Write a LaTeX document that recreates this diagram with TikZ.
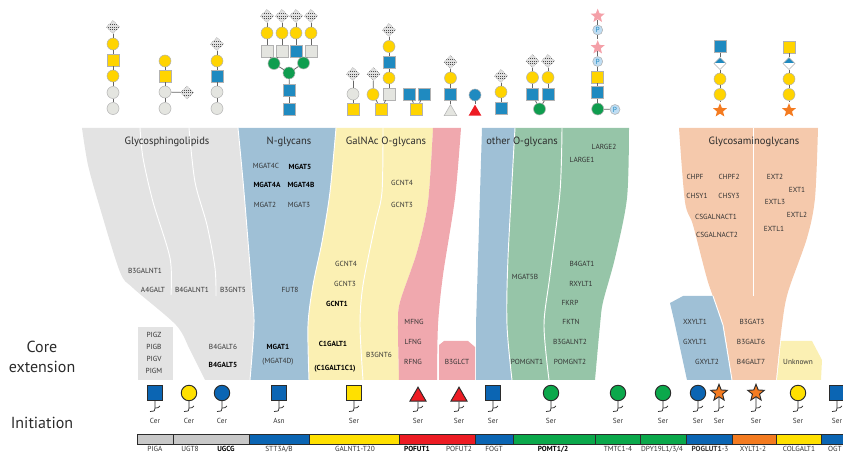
\documentclass[tikz,border=0pt]{standalone}
\usepackage{fontspec}
\setmainfont{PT Sans}
\usetikzlibrary{shapes.geometric}
\definecolor{rGrey}{HTML}{E3E3E3}
\definecolor{rBlue}{HTML}{9FC0D6}
\definecolor{rYellow}{HTML}{FBF0B3}
\definecolor{rPink}{HTML}{F0A8AE}
\definecolor{rGreen}{HTML}{96C5A8}
\definecolor{rOrange}{HTML}{F5C9AC}
\definecolor{sGrey}{HTML}{E4E5E0}
\definecolor{sYellow}{HTML}{FFD400}
\definecolor{sBlue}{HTML}{1F8AC0}
\definecolor{sGreen}{HTML}{0F9D4F}
\definecolor{sRed}{HTML}{ED1C24}
\definecolor{sOrange}{HTML}{F47B20}
\definecolor{sPink}{HTML}{F4A0A8}
\definecolor{sP}{HTML}{BFDDF3}
\definecolor{iBlue}{HTML}{0B65B3}
\definecolor{iYellow}{HTML}{FFE000}
\definecolor{iGreen}{HTML}{0BA84B}
\definecolor{barGrey}{HTML}{C8C8C8}
\definecolor{ink}{HTML}{2B2B2B}
\definecolor{geneInk}{HTML}{333333}
\tikzset{
  sym/.style={inner sep=0pt,draw=black!30,line width=.4pt},
  gc/.style={sym,circle,minimum size=9pt,fill=sGrey},
  yc/.style={sym,circle,minimum size=9pt,fill=sYellow},
  bc/.style={sym,circle,minimum size=9pt,fill=sBlue},
  grc/.style={sym,circle,minimum size=9pt,fill=sGreen},
  gs/.style={sym,rectangle,minimum size=9pt,fill=sGrey},
  ys/.style={sym,rectangle,minimum size=9pt,fill=sYellow},
  bs/.style={sym,rectangle,minimum size=9pt,fill=sBlue},
  gt/.style={sym,regular polygon,regular polygon sides=3,minimum size=11pt,fill=sGrey},
  rt/.style={sym,regular polygon,regular polygon sides=3,minimum size=11pt,fill=sRed,draw=none},
  os/.style={sym,star,star points=5,star point ratio=2.3,minimum size=11pt,fill=sOrange,draw=none},
  ps/.style={sym,star,star points=5,star point ratio=2.3,minimum size=11pt,fill=sPink,draw=none},
  pc/.style={sym,circle,minimum size=7.5pt,fill=sP,text=sBlue,font=\fontsize{5.5}{5.5}\selectfont},
  dia/.style={sym,diamond,minimum size=10pt,fill=black!12,draw=black!45,densely dotted,
    path picture={\draw[black!70,densely dotted,line width=.5pt]
      ([yshift=1.8pt]path picture bounding box.west)--([yshift=1.8pt]path picture bounding box.east)
      (path picture bounding box.west)--(path picture bounding box.east)
      ([yshift=-1.8pt]path picture bounding box.west)--([yshift=-1.8pt]path picture bounding box.east);}},
  hdia/.style={sym,diamond,minimum size=9pt,fill=white,
    path picture={\fill[sBlue] (path picture bounding box.north west) rectangle (path picture bounding box.east);}},
  link/.style={draw=black!60,line width=.6pt},
  ic/.style={inner sep=0pt,draw=ink,line width=.7pt},
  icc/.style={ic,circle,minimum size=11.6pt},
  ics/.style={ic,rectangle,minimum size=11.6pt},
  ict/.style={ic,regular polygon,regular polygon sides=3,minimum size=14pt,fill=sRed},
  ica/.style={ic,star,star points=5,star point ratio=2.3,minimum size=13pt,fill=sOrange},
  stem/.style={draw=ink,line width=.55pt},
  gene/.style={inner sep=0pt,text=geneInk,font=\fontsize{5.5}{6}\selectfont},
  bgene/.style={gene,text=black,font=\fontsize{5.5}{6}\selectfont\bfseries},
  title/.style={inner sep=0pt,text=ink,font=\fontsize{7.9}{9}\selectfont},
  side/.style={inner sep=0pt,text=ink,font=\fontsize{12}{14}\selectfont},
  seg/.style={draw=ink,line width=.7pt},
  ribline/.style={draw=white,line width=.7pt},
}
\begin{document}
\begin{tikzpicture}[x=0.75pt,y=-0.75pt]
\useasboundingbox (0,0) rectangle (843,452);
\clip (0,0) rectangle (843,452);
% ---------- ribbons ----------
\fill[rGrey] plot[smooth] coordinates {(82,128)(88,165)(100,208)(120,272)(133,288)(176,325)(190,350)(205,380)}
  -- plot[smooth] coordinates {(250,380)(254,325)(252,292)(244,192)(238,128)} -- cycle;
\fill[rGrey] (137.5,327) rectangle (172.7,380);
\fill[rBlue] plot[smooth] coordinates {(238,128)(244,192)(252,292)(254,325)(250,380)}
  -- plot[smooth] coordinates {(309,380)(308,325)(313,285)(322,242)(330,192)(336,128)} -- cycle;
\fill[rYellow] plot[smooth] coordinates {(336,128)(330,192)(322,242)(313,285)(308,325)(309,380)}
  -- plot[smooth] coordinates {(399,380)(398,325)(400,302)(417,252)(428,202)(433,128)} -- cycle;
\fill[rPink] plot[smooth] coordinates {(433,128)(428,202)(417,252)(400,302)(398,325)(399,380)}
  -- plot[smooth] coordinates {(437,380)(438,325)(443,275)(455,198)(461,128)} -- cycle;
\fill[rPink] (439,380)--(439,345)--(444,341)--(468,341)--(475,347)--(475,380)--cycle;
\fill[rBlue] (482,128) -- (476,325) -- (476,380)
  -- plot[smooth] coordinates {(512,380)(507,325)(508,258)(515,128)} -- cycle;
\fill[rGreen] plot[smooth] coordinates {(515,128)(508,258)(507,325)(512,380)}
  -- plot[smooth] coordinates {(595,380)(600,325)(603,302)(615,258)(627,198)(629,128)} -- cycle;
\fill[rOrange] plot[smooth] coordinates {(679,128)(685,202)(693,225)(708,282)(723,325)(732,380)}
  -- plot[smooth] coordinates {(776,380)(782,325)(788,292)(807,238)(815,198)(818,128)} -- cycle;
\fill[rBlue] (670,303)--(683,296)--(713,296)--(723,325)--(732,380)--(687,380)--(674,320)--cycle;
\fill[rYellow] (777,380)--(781,341)--(812,341)--(822,360)--(821,380)--cycle;
% ---------- ribbon dividers ----------
\draw[ribline] plot[smooth] coordinates {(140,128)(143,158)(153,202)(170,258)(171,295)};
\draw[ribline] plot[smooth] coordinates {(189,128)(195,182)(207,225)(215,268)(216,296)};
\draw[ribline] plot[smooth] coordinates {(238,128)(244,192)(252,292)(254,325)(250,380)};
\draw[ribline] plot[smooth] coordinates {(336,128)(330,192)(322,242)(313,285)(308,325)(309,380)};
\draw[ribline] plot[smooth] coordinates {(383,128)(382,192)(375,225)(363,285)(360,325)(363,380)};
\draw[ribline] plot[smooth] coordinates {(515,128)(508,258)(507,325)(512,380)};
\draw[ribline] plot[smooth] coordinates {(562,128)(560,192)(550,275)(544,325)(549,380)};
\draw[ribline] (753.5,128)--(753.5,296);
\draw[ribline] (713,296)--(723,325)--(732,380);
% ---------- titles ----------
\node[title] (tGSL) at (167,142) {Glycosphingolipids};
\node[title] (tN) at (289,142) {N-glycans};
\node[title] (tGal) at (386,142) {GalNAc O-glycans};
\node[title] (tO) at (522,142) {other O-glycans};
\node[title] (tGAG) at (754,142) {Glycosaminoglycans};
\node[side] (sCore) at (42,347) {Core};
\node[side] (sExt) at (42,367) {extension};
\node[side] (sInit) at (42,423) {Initiation};
% ---------- gene labels ----------
\foreach \t/\x/\y in {MGAT4C/266/166,MGAT2/265/205,MGAT3/299/205,FUT8/290/290,{(MGAT4D)}/278/362,
  B3GALNT1/145/271,A4GALT/153/290,B4GALNT1/192/290,B3GNT5/233/290,B4GALT6/223/347,
  PIGZ/154/335,PIGB/154/347,PIGV/154/359,PIGM/154/371,
  GCNT4/402/183,GCNT3/402/205,GCNT4/346/264,GCNT3/345/284,B3GNT6/379/355,
  MFNG/414/322,LFNG/413/342,RFNG/413/362,B3GLCT/457/362,
  MGAT5B/525/277,LARGE2/604/147,LARGE1/582/160,B4GAT1/582/264,RXYLT1/581/284,FKRP/570/303,FKTN/571/322,
  B3GALNT2/570/342,POMGNT2/570/362,POMGNT1/527/362,
  CHPF/695/177,CHPF2/729/177,CHSY1/697/196,CHSY3/729/196,CSGALNACT1/716/217,CSGALNACT2/717/235,
  EXT2/775/177,EXT1/797/190,EXTL3/775/202,EXTL2/797/215,EXTL1/774/229,
  XXYLT1/695/322,GXYLT1/695/342,GXYLT2/707/362,B3GAT3/752/322,B3GALT6/751/342,B4GALT7/751/362,Unknown/798/362,
  PIGA/155/449,UGT8/190/449,STT3A\slash B/279/449,GALNT1-T20/355/449,POFUT2/459/449,FOGT/494/449,
  TMTC1-4/618/449,DPY19L1\slash 3\slash 4/662/449,XYLT1-2/753/449,COLGALT1/799/449,OGT/835/449}
  \node[gene] (g\x-\y) at (\x,\y) {\t};
\foreach \t/\x/\y in {MGAT5/300/166.5,MGAT4A/267/185,MGAT4B/301/185,MGAT1/278/347,B4GALT5/223/365,
  GCNT1/337/304,C1GALT1/333/344,{(C1GALT1C1)}/335/369,UGCG/226/449,POFUT1/417/449,POMT1\slash 2/553/449}
  \node[bgene] (g\x-\y) at (\x,\y) {\t};
\node[gene] (gPOGLUT) at (710,449) {{\bfseries POGLUT1}-3};
% ---------- glycans ----------
\foreach \n/\x/\y in {a1/113/27,b1/187/92.5,c1/217/44,d1/267/16,d2/282/16,d3/296/16,d4/311/16,
  e1/353/74,f1/373.5/74,f2/389/30,h1/450.5/62,j1/501/76,k1/532.5/61,k2/548/61}
  \node[dia] (\n) at (\x,\y) {};
\foreach \n/\x/\y in {a2/113/44,a4/113/76,b2/165/61,c2/217/61,d5/267/33,d6/282/33,d7/296/33,d8/311/33,
  f3/373/94.5,f5/389/78,f7/389/46.5,h2/450.5/78,j2/501/92,k3/532.5/77.5,k4/548/77.5,
  n4/720/79,n5/720/94.5,o4/789/79,o5/789/94.5}
  \node[yc] (\n) at (\x,\y) {};
\foreach \n/\x/\y in {a3/113/60,b3/165/76,f0/381/109,g0/416.5/109,e0/353/109,m5/597.7/77,o2/789/47}
  \node[ys] (\n) at (\x,\y) {};
\foreach \n/\x/\y in {a5/113/92.5,a6/113/108.5,b4/165/92,b5/165/108.5,c4/217/92,c5/217/108.5,e2/353/94}
  \node[gc] (\n) at (\x,\y) {};
\foreach \n/\x/\y in {c3/217/76,d11/296/51,d15/289.5/90.5,d16/289.5/109,f6/389/62.5,g1/409/94,g2/424/94,
  h3/450.5/94.5,j3/501/108.5,k5/532.5/94.5,k6/548/94.5,m6/597.7/92.5,n2/720/46.5}
  \node[bs] (\n) at (\x,\y) {};
\foreach \n/\x/\y in {d9/267/51,d10/282/51,d12/311/51,f4/389/94}
  \node[gs] (\n) at (\x,\y) {};
\foreach \n/\x/\y in {d13/274/63.5,d14/303.5/63,d17/289/73,k7/539.5/109,m7/597.7/109}
  \node[grc] (\n) at (\x,\y) {};
\node[gt] (h4) at (450.5,112) {};
\node[bc] (i1) at (475,95) {};
\node[rt] (i2) at (475,112) {};
\foreach \n/\x/\y in {m1/597.7/16,m3/597.7/47.5}
  \node[ps] (\n) at (\x,\y) {};
\foreach \n/\x/\y in {m2/597.7/30,m4/597.7/61.5,m8/615/109.5}
  \node[pc] (\n) at (\x,\y) {P};
\node[hdia] (n3) at (720,63.5) {};
\node[hdia] (o3) at (789,63.5) {};
\node[os] (n6) at (720,110.5) {};
\node[os] (o6) at (789,110.5) {};
\foreach \a/\b in {a1/a2,a2/a3,a3/a4,a4/a5,a5/a6,b2/b3,b3/b4,b4/b5,b4/b1,c1/c2,c2/c3,c3/c4,c4/c5,
  d1/d5,d2/d6,d3/d7,d4/d8,d5/d9,d6/d10,d7/d11,d8/d12,d9/d13,d10/d13,d11/d14,d12/d14,d13/d17,d14/d17,d17/d15,d15/d16,
  e1/e2,e2/e0,f1/f3,f3/f0,f4/f0,f5/f4,f6/f5,f7/f6,f2/f7,g1/g0,g2/g0,h1/h2,h2/h3,h3/h4,i1/i2,j1/j2,j2/j3,
  k1/k3,k2/k4,k3/k5,k4/k6,k5/k7,k6/k7,m1/m2,m2/m3,m3/m4,m4/m5,m5/m6,m6/m7,m7/m8,
  n2/n3,n3/n4,n4/n5,n5/n6,o2/o3,o3/o4,o4/o5,o5/o6}
  \draw[link] (\a)--(\b);
% ---------- initiation icons ----------
\node[ics,fill=iBlue] (i01) at (155,393) {};
\node[icc,fill=iYellow] (i02) at (189,393) {};
\node[icc,fill=iBlue] (i03) at (222,393) {};
\node[ics,fill=iBlue] (i04) at (279,393) {};
\node[ics,fill=iYellow] (i05) at (354,393) {};
\node[ict] (i06) at (418,396.5) {};
\node[ict] (i07) at (459,396.5) {};
\node[ics,fill=iBlue] (i08) at (493,393) {};
\node[icc,fill=iGreen] (i09) at (551,393) {};
\node[icc,fill=iGreen] (i10) at (618,393) {};
\node[icc,fill=iGreen] (i11) at (663,393) {};
\node[icc,fill=iBlue] (i12) at (698,393) {};
\node[ica] (i13) at (719,393) {};
\node[ica] (i14) at (756,393) {};
\node[icc,fill=iYellow] (i15) at (798,393) {};
\node[ics,fill=iBlue] (i16) at (837,393) {};
\foreach \n/\x/\t in {i01/155/Cer,i02/189/Cer,i03/222/Cer,i04/279/Asn,i05/354/Ser,i06/418/Ser,i07/459/Ser,i08/493/Ser,
  i09/551/Ser,i10/618/Ser,i11/663/Ser,i12/698/Ser,i13/719/Ser,i14/756/Ser,i15/798/Ser,i16/837/Ser}{
  \coordinate (\n e) at (\x,408);
  \coordinate (\n f) at (\x-5,411.5);
  \coordinate (\n h) at (\x+5,406);
  \draw[stem] (\n.south)--(\n e) .. controls (\x,411) .. (\n f);
  \draw[stem] (\n e) .. controls (\x+3,408) .. (\n h);
  \node[gene] (\n t) at (\x,420.5) {\t};
}
% ---------- bar ----------
\foreach \a/\b/\c in {137/173/barGrey,173/249/barGrey,249/309/iBlue,309/399/iYellow,399/475/sRed,475/513/iBlue,
  513/595/iGreen,595/640/iGreen,640/686/iGreen,686/732/iBlue,732/776/sOrange,776/821/iYellow,821/850/iBlue}
  \draw[seg,fill=\c] (\a,434) rectangle (\b,444);
\end{tikzpicture}
\end{document}
